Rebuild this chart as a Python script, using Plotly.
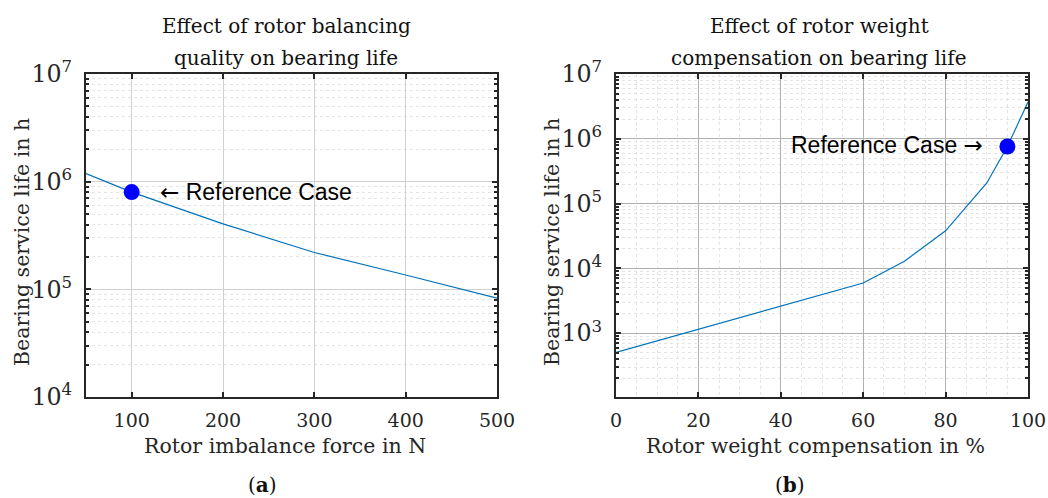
import numpy as np
import plotly.graph_objects as go

# ---- data ----
imbalance_force = [50, 100, 200, 300, 400, 500]
life_a = [1.19e6, 8.0e5, 4.05e5, 2.2e5, 1.36e5, 8.3e4]
ref_a_x = [100]
ref_a_y = [8.0e5]

weight_comp = [0, 10, 20, 30, 40, 50, 60, 70, 80, 90, 95, 100]
life_b = [505, 760, 1140, 1720, 2600, 3930, 5940, 1.29e4, 3.8e4, 2.08e5, 7.6e5, 3.7e6]
ref_b_x = [95]
ref_b_y = [7.6e5]

xticks_a = [100, 200, 300, 400, 500]
xticks_b = [0, 20, 40, 60, 80, 100]

LINE = "#0072BD"
AX = "#262626"
SERIF = "DejaVu Serif"
SANS = "Liberation Sans, Arial"

fig = go.Figure()
fig.add_trace(go.Scatter(x=imbalance_force, y=life_a, mode="lines",
                         line=dict(color=LINE, width=1.2), xaxis="x", yaxis="y", showlegend=False))
fig.add_trace(go.Scatter(x=ref_a_x, y=ref_a_y, mode="markers",
                         marker=dict(color="#0000FF", size=16), xaxis="x", yaxis="y", showlegend=False))
fig.add_trace(go.Scatter(x=weight_comp, y=life_b, mode="lines",
                         line=dict(color=LINE, width=1.2), xaxis="x2", yaxis="y2", showlegend=False))
fig.add_trace(go.Scatter(x=ref_b_x, y=ref_b_y, mode="markers",
                         marker=dict(color="#0000FF", size=16), xaxis="x2", yaxis="y2", showlegend=False))

W, H = 1048, 498


def px(sx):
    return sx / W


def py(sy):
    return 1 - sy / H


dom_y = [py(397), py(74)]
MINOR_GRID = "#e4e4e4"


def xaxis(domain, rng, ticks, anchor, gridcol, minor_grid):
    d = dict(domain=domain, range=rng, tickvals=ticks, anchor=anchor, automargin=False,
             showline=True, linecolor=AX, linewidth=2, mirror="ticks",
             ticks="inside", ticklen=5, tickwidth=2, tickcolor=AX,
             showgrid=True, gridcolor=gridcol, gridwidth=1, zeroline=False,
             tickfont=dict(family=SERIF, size=19, color="#262626"),
             ticklabelstandoff=5)
    if minor_grid:
        d["minor"] = dict(dtick=5, showgrid=True, griddash="dot", gridcolor=MINOR_GRID, gridwidth=1, ticks="")
    return d


def yaxis(domain, rng, anchor, gridcol):
    return dict(domain=domain, type="log", range=rng, dtick=1, exponentformat="power",
                anchor=anchor, automargin=False, showline=True, linecolor=AX, linewidth=2, mirror="ticks",
                ticks="inside", ticklen=5, tickwidth=2, tickcolor=AX,
                showgrid=True, gridcolor=gridcol, gridwidth=1, zeroline=False,
                tickfont=dict(family=SERIF, size=19, color="#262626"),
                ticklabelstandoff=8,
                minor=dict(dtick="D1", showgrid=True, griddash="dot", gridcolor=MINOR_GRID,
                           gridwidth=1, ticks="inside", ticklen=3, tickwidth=1.5, tickcolor=AX))


fig.update_layout(
    width=W, height=H, margin=dict(l=0, r=0, t=0, b=0, autoexpand=False),
    paper_bgcolor="white", plot_bgcolor="white",
    xaxis=xaxis([px(86), px(497)], [50, 500], xticks_a, "y", "#d0d0d0", False),
    yaxis=yaxis(dom_y, [4, 7], "x", "#d0d0d0"),
    xaxis2=xaxis([px(616), px(1028)], [0, 100], xticks_b, "y2", "#b0b0b0", True),
    yaxis2=yaxis(dom_y, [2.015, 7], "x2", "#b0b0b0"),
)

ann = []
tf = dict(family=SERIF, size=20, color="#111111")
# titles
for xc, l1, l2 in [(px(286), "Effect of rotor balancing", "quality on bearing life"),
                   (px(819), "Effect of rotor weight", "compensation on bearing life")]:
    ann.append(dict(text=l1, x=xc, y=py(26), xref="paper", yref="paper", showarrow=False,
                    xanchor="center", yanchor="middle", font=tf))
    ann.append(dict(text=l2, x=xc, y=py(58), xref="paper", yref="paper", showarrow=False,
                    xanchor="center", yanchor="middle", font=tf))
# axis titles
lf = dict(family=SERIF, size=20.5, color="#262626")
ann.append(dict(text="Rotor imbalance force in N", x=px(285), y=py(446),
                xref="paper", yref="paper", showarrow=False, xanchor="center", yanchor="middle", font=lf))
ann.append(dict(text="Rotor weight compensation in %", x=px(815), y=py(446),
                xref="paper", yref="paper", showarrow=False, xanchor="center", yanchor="middle", font=lf))
for xp in [22, 552]:
    ann.append(dict(text="Bearing service life in h", x=px(xp), y=py(242), xref="paper", yref="paper",
                    showarrow=False, textangle=-90, xanchor="center", yanchor="middle", font=lf))
# captions
cf = dict(family=SERIF, size=20, color="#111111")
ann.append(dict(text="(<b>a</b>)", x=px(262), y=py(485), xref="paper", yref="paper",
                showarrow=False, xanchor="center", yanchor="middle", font=cf))
ann.append(dict(text="(<b>b</b>)", x=px(790), y=py(485), xref="paper", yref="paper",
                showarrow=False, xanchor="center", yanchor="middle", font=cf))
# reference case labels
rf = dict(family=SANS, size=23, color="#000000")
ARROW_L = "<span style='font-family:DejaVu Sans'>\u2190</span>"
ARROW_R = "<span style='font-family:DejaVu Sans'>\u2192</span>"
ann.append(dict(text=ARROW_L + " Reference Case", x=ref_a_x[0], y=np.log10(ref_a_y[0]), xref="x", yref="y",
                showarrow=False, xanchor="left", yanchor="middle", xshift=26, yshift=0, font=rf))
ann.append(dict(text="Reference Case " + ARROW_R, x=ref_b_x[0], y=np.log10(ref_b_y[0]), xref="x2", yref="y2",
                showarrow=False, xanchor="right", yanchor="middle", xshift=-22, yshift=2, font=rf))
fig.update_layout(annotations=ann)

fig.write_html("out.html", config={"displayModeBar": False},
               post_script="document.body.style.margin='0';document.body.style.overflow='hidden';")
